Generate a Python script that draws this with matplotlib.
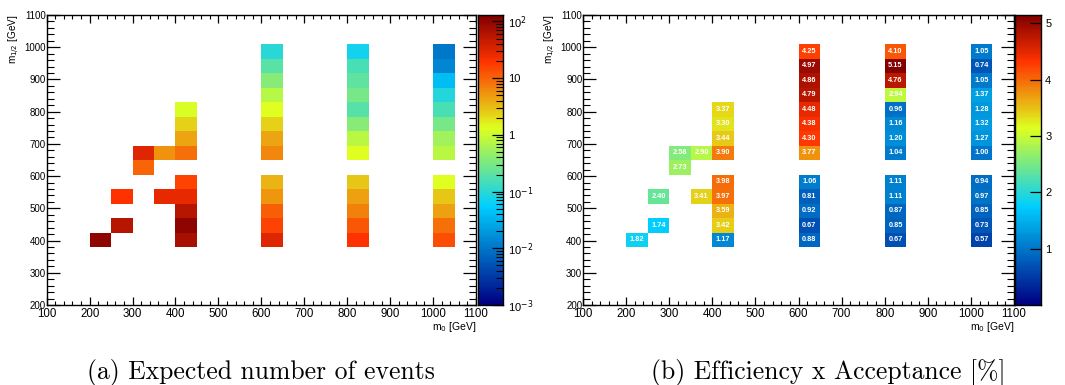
import numpy as np
import matplotlib
matplotlib.use("Agg")
import matplotlib.pyplot as plt
from matplotlib.colors import LinearSegmentedColormap, LogNorm, Normalize
from matplotlib.ticker import MultipleLocator, LogLocator, FixedLocator, NullFormatter

plt.rcParams['font.family'] = ['Liberation Sans', 'DejaVu Sans']

# grid points (m0, m1/2) in GeV
m0_pts = [200,
          250, 250,
          300, 300,
          350, 350,
          400, 400, 400, 400, 400, 400, 400, 400, 400,
          600, 600, 600, 600, 600, 600, 600, 600, 600, 600, 600, 600, 600,
          800, 800, 800, 800, 800, 800, 800, 800, 800, 800, 800, 800, 800,
          1000, 1000, 1000, 1000, 1000, 1000, 1000, 1000, 1000, 1000, 1000, 1000, 1000]
m12_pts = [400,
           450, 550,
           625, 650,
           550, 650,
           400, 450, 500, 550, 600, 650, 700, 750, 800,
           400, 450, 500, 550, 600, 650, 700, 750, 800, 850, 900, 950, 1000,
           400, 450, 500, 550, 600, 650, 700, 750, 800, 850, 900, 950, 1000,
           400, 450, 500, 550, 600, 650, 700, 750, 800, 850, 900, 950, 1000]

n_events = [105,
            57, 20,
            10, 32,
            28, 5.5,
            73, 105, 57, 28, 16, 8.7, 4.4, 2.4, 1.2,
            32, 16, 11, 5.3, 3.4, 6.2, 4.4, 2.4, 1.3, 0.75, 0.37, 0.2, 0.1,
            20, 12, 7, 4.5, 2.7, 1.3, 0.78, 0.37, 0.19, 0.3, 0.22, 0.16, 0.07,
            14, 8.7, 4.6, 2.8, 1.3, 0.78, 0.55, 0.3, 0.16, 0.09, 0.04, 0.0135, 0.0105]

# (b) efficiency x acceptance [%]
eff_acc = [1.82,
           1.74, 2.40,
           2.73, 2.58,
           3.41, 2.90,
           1.17, 3.42, 3.59, 3.97, 3.98, 3.90, 3.44, 3.30, 3.37,
           0.88, 0.67, 0.92, 0.81, 1.06, 3.77, 4.30, 4.38, 4.48, 4.79, 4.86, 4.97, 4.25,
           0.67, 0.85, 0.87, 1.11, 1.11, 1.04, 1.20, 1.16, 0.96, 2.94, 4.76, 5.15, 4.10,
           0.57, 0.73, 0.85, 0.97, 0.94, 1.00, 1.27, 1.32, 1.28, 1.37, 1.05, 0.74, 1.05]

x_edges = np.linspace(100, 1100, 21)
y_edges = np.linspace(200, 1100, 21)

# ROOT style rainbow palette
stops = [0.0, 0.34, 0.61, 0.84, 1.0]
cols = [(0.0, 0.0, 0.51), (0.0, 0.81, 1.0), (0.87, 1.0, 0.12), (1.0, 0.2, 0.0), (0.51, 0.0, 0.0)]
cmap = LinearSegmentedColormap.from_list("root", list(zip(stops, cols)), N=255)

W, H = 1065, 385


def px_axes(fig, x0, y0, x1, y1):
    return fig.add_axes([x0 / W, 1 - y1 / H, (x1 - x0) / W, (y1 - y0) / H])


def histo(values):
    h, _, _ = np.histogram2d(m0_pts, m12_pts, bins=[x_edges, y_edges], weights=values)
    return np.ma.masked_equal(h.T, 0)


def style_axes(ax):
    ax.set_xlim(100, 1100)
    ax.set_ylim(200, 1100)
    ax.xaxis.set_major_locator(MultipleLocator(100))
    ax.xaxis.set_minor_locator(MultipleLocator(20))
    ax.yaxis.set_major_locator(MultipleLocator(100))
    ax.yaxis.set_minor_locator(MultipleLocator(20))
    ax.tick_params(axis='x', which='both', direction='in', top=True, bottom=True, labelsize=8.3, pad=2.5)
    ax.tick_params(axis='x', which='major', length=6, width=0.9)
    ax.tick_params(axis='x', which='minor', length=3, width=0.8)
    ax.tick_params(axis='y', which='both', direction='in', left=True, right=True, labelsize=7, pad=0.5)
    ax.tick_params(axis='y', which='major', length=9.5, width=0.9)
    ax.tick_params(axis='y', which='minor', length=5, width=0.8)
    for s in ax.spines.values():
        s.set_linewidth(1.0)
    ax.text(1.0, -0.052, r"m$_0$ [GeV]", transform=ax.transAxes, ha='right', va='top', fontsize=7.5)
    ax.text(-0.075, 1.0, r"m$_{1/2}$ [GeV]", transform=ax.transAxes, ha='center', va='top',
            rotation=90, fontsize=7.2)


def style_cbar(cax):
    cax.tick_params(axis='y', which='both', direction='in', left=False, right=True, labelsize=8, pad=3)
    cax.tick_params(axis='y', which='major', length=8, width=0.9)
    cax.tick_params(axis='y', which='minor', length=5, width=0.8)
    cax.tick_params(axis='x', bottom=False, labelbottom=False)
    for s in cax.spines.values():
        s.set_linewidth(1.0)


fig = plt.figure(figsize=(W / 100, H / 100), dpi=100)

# (a) expected events
ax1 = px_axes(fig, 46.7, 15, 476, 305)
norm1 = LogNorm(vmin=1e-3, vmax=130)
ax1.pcolormesh(x_edges, y_edges, histo(n_events), cmap=cmap, norm=norm1)
style_axes(ax1)

cax1 = px_axes(fig, 477.5, 15, 503.5, 305)
grad = np.logspace(-3, np.log10(130), 300).reshape(-1, 1)
cax1.pcolormesh([0, 1], np.logspace(-3, np.log10(130), 301), grad, cmap=cmap, norm=norm1)
cax1.set_yscale('log')
cax1.set_ylim(1e-3, 130)
cax1.set_xlim(0, 1)
cax1.yaxis.tick_right()
cax1.yaxis.set_major_locator(FixedLocator([1e-3, 1e-2, 1e-1, 1, 10, 100]))
cax1.yaxis.set_minor_locator(LogLocator(base=10, subs=np.arange(2, 10)))
cax1.yaxis.set_minor_formatter(NullFormatter())
cax1.set_yticklabels([r"10$^{-3}$", r"10$^{-2}$", r"10$^{-1}$", "1", "10", r"10$^{2}$"])
style_cbar(cax1)

# (b) efficiency x acceptance
ax2 = px_axes(fig, 583, 15, 1014, 305)
norm2 = Normalize(vmin=0, vmax=5.15)
ax2.pcolormesh(x_edges, y_edges, histo(eff_acc), cmap=cmap, norm=norm2)
style_axes(ax2)
xc = 0.5 * (x_edges[:-1] + x_edges[1:])
yc = 0.5 * (y_edges[:-1] + y_edges[1:])
hb = histo(eff_acc)
for j in range(len(yc)):
    for i in range(len(xc)):
        if hb.mask is not np.ma.nomask and hb.mask[j, i]:
            continue
        ax2.text(xc[i], yc[j], f"{hb[j, i]:.2f}", ha='center', va='center',
                 color='white', fontsize=5.3, fontweight='bold')

cax2 = px_axes(fig, 1015, 15, 1041, 305)
lv = np.linspace(0, 5.15, 301)
cax2.pcolormesh([0, 1], lv, 0.5 * (lv[:-1] + lv[1:]).reshape(-1, 1), cmap=cmap, norm=norm2)
cax2.set_ylim(0, 5.15)
cax2.set_xlim(0, 1)
cax2.yaxis.tick_right()
cax2.yaxis.set_major_locator(FixedLocator([1, 2, 3, 4, 5]))
style_cbar(cax2)

# captions
fig.text(261 / W, 1 - 373 / H, "(a) Expected number of events", ha='center', va='center',
         family='cmr10', fontsize=18.5)
fig.text(828 / W, 1 - 373 / H, "(b) Efficiency x Acceptance [%]", ha='center', va='center',
         family='cmr10', fontsize=18.5)

fig.savefig("out.png", dpi=100)
